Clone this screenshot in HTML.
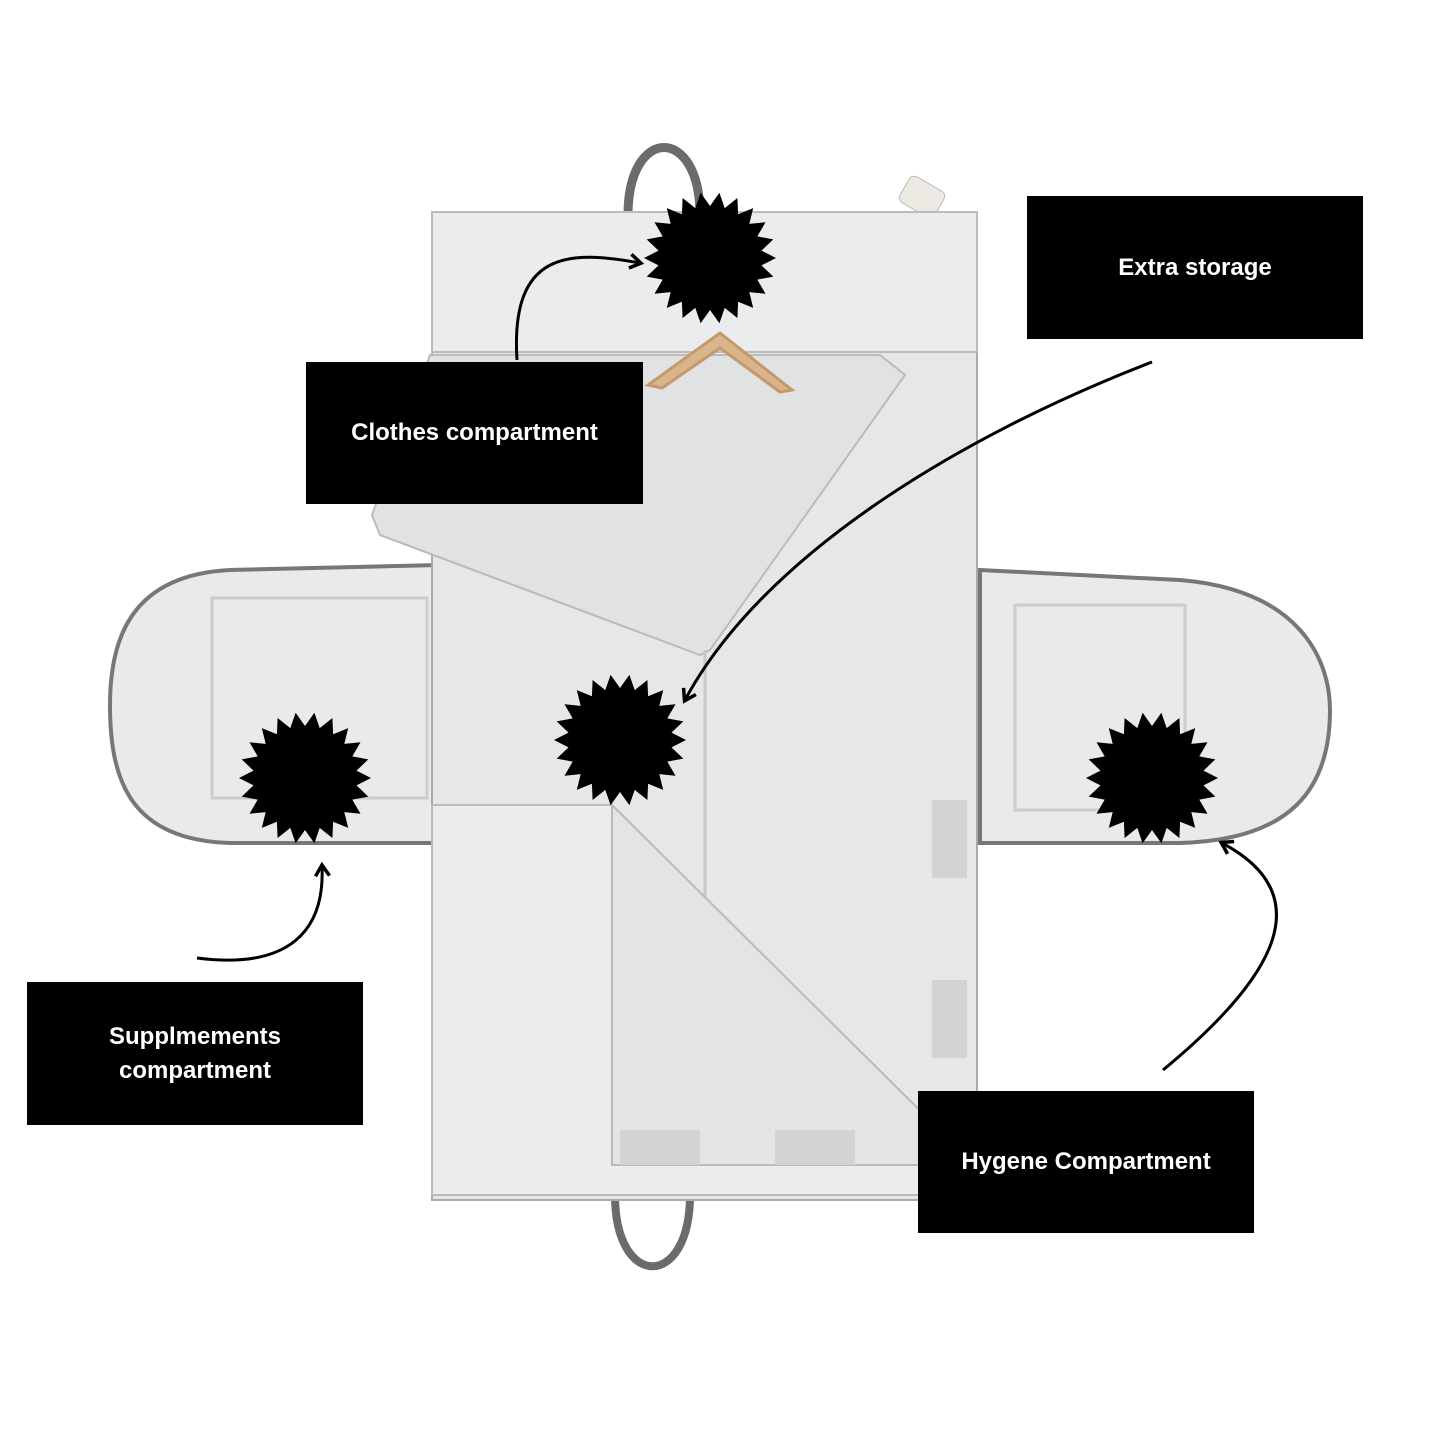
<!DOCTYPE html>
<html><head><meta charset="utf-8">
<style>
html,body{margin:0;padding:0;background:#fff;}
.wrap{position:relative;width:1445px;height:1445px;overflow:hidden;}
.lbl{position:absolute;background:#000;color:#fff;font-family:"Liberation Sans",sans-serif;font-weight:bold;font-size:24px;display:flex;align-items:center;justify-content:center;text-align:center;line-height:1.4;}
</style></head><body><div class="wrap">
<svg width="1445" height="1445" style="position:absolute;left:0;top:0">
<defs><marker id="ah" markerWidth="18" markerHeight="18" refX="12" refY="9" orient="auto" markerUnits="userSpaceOnUse"><path d="M2,2 L13,9 L2,16" fill="none" stroke="#000" stroke-width="3.5"/></marker></defs>
<path d="M628,215 C628,125 700,125 700,215" fill="none" stroke="#6b6b6b" stroke-width="9"/>
<path d="M615,1195 C615,1290 690,1290 690,1195" fill="none" stroke="#6b6b6b" stroke-width="8"/>
<rect x="902" y="182" width="40" height="30" rx="6" fill="#ece9e2" stroke="#bbb" transform="rotate(30 922 197)"/>
<path d="M440,565 L230,570 C130,575 110,640 110,705 C110,780 130,840 230,843 L440,843 Z" fill="#e9eaec" stroke="#777" stroke-width="4"/>
<path d="M980,570 L1180,580 C1300,590 1330,660 1330,710 C1330,790 1290,840 1180,843 L980,843 Z" fill="#e9eaec" stroke="#777" stroke-width="4"/>
<rect x="212" y="598" width="215" height="200" fill="none" stroke="#ccc" stroke-width="3"/>
<rect x="1015" y="605" width="170" height="205" fill="none" stroke="#ccc" stroke-width="3"/>
<rect x="432" y="212" width="545" height="988" fill="#e6e7e9" stroke="#aaa" stroke-width="2"/>
<rect x="432" y="212" width="545" height="140" fill="#ebecee" stroke="#bbb" stroke-width="2"/>
<path d="M430,355 L372,515 L380,535 L700,655 L710,650 L905,375 L880,355 Z" fill="#e1e2e4" stroke="#bbb" stroke-width="2"/>
<path d="M705,650 L705,1110" stroke="#c8c8c8" stroke-width="3"/>
<path d="M432,805 L612,805 L612,1165 L975,1165 L975,1195 L432,1195 Z" fill="#ebecee" stroke="#bbb" stroke-width="2"/>
<path d="M612,805 L975,1165 L612,1165 Z" fill="#e3e4e6" stroke="#bbb" stroke-width="2"/>
<rect x="620" y="1130" width="80" height="35" fill="#d3d3d3"/>
<rect x="775" y="1130" width="80" height="35" fill="#d3d3d3"/>
<rect x="932" y="800" width="35" height="78" fill="#d3d3d3"/>
<rect x="932" y="980" width="35" height="78" fill="#d3d3d3"/>
<path d="M648,385 L720,333 L792,390 L780,392 L720,348 L662,388 Z" fill="#d9b48c" stroke="#c49a6c" stroke-width="3"/>
<g id="stars" fill="#000"></g>
<path d="M517,360 C510,250 570,250 640,263" fill="none" stroke="#000" stroke-width="3" marker-end="url(#ah)"/>
<path d="M1152,362 C950,440 760,560 685,700" fill="none" stroke="#000" stroke-width="3" marker-end="url(#ah)"/>
<path d="M197,958 C290,970 325,930 322,866" fill="none" stroke="#000" stroke-width="3" marker-end="url(#ah)"/>
<path d="M1163,1070 C1260,990 1330,900 1222,843" fill="none" stroke="#000" stroke-width="3" marker-end="url(#ah)"/>
</svg>
<div class="lbl" style="left:306px;top:362px;width:337px;height:142px;">Clothes compartment</div>
<div class="lbl" style="left:1027px;top:196px;width:336px;height:143px;">Extra storage</div>
<div class="lbl" style="left:27px;top:982px;width:336px;height:143px;">Supplmements<br>compartment</div>
<div class="lbl" style="left:918px;top:1091px;width:336px;height:142px;">Hygene Compartment</div>
<script>
var g=document.getElementById('stars');
[[710,258],[620,740],[305,778],[1152,778]].forEach(function(c){
 var p=[],n=22;
 for(var i=0;i<n*2;i++){var r=i%2?52:66,a=Math.PI*i/n;p.push((c[0]+r*Math.cos(a)).toFixed(1)+','+(c[1]+r*Math.sin(a)).toFixed(1));}
 var e=document.createElementNS('http://www.w3.org/2000/svg','polygon');e.setAttribute('points',p.join(' '));g.appendChild(e);
});
</script>
</div></body></html>
